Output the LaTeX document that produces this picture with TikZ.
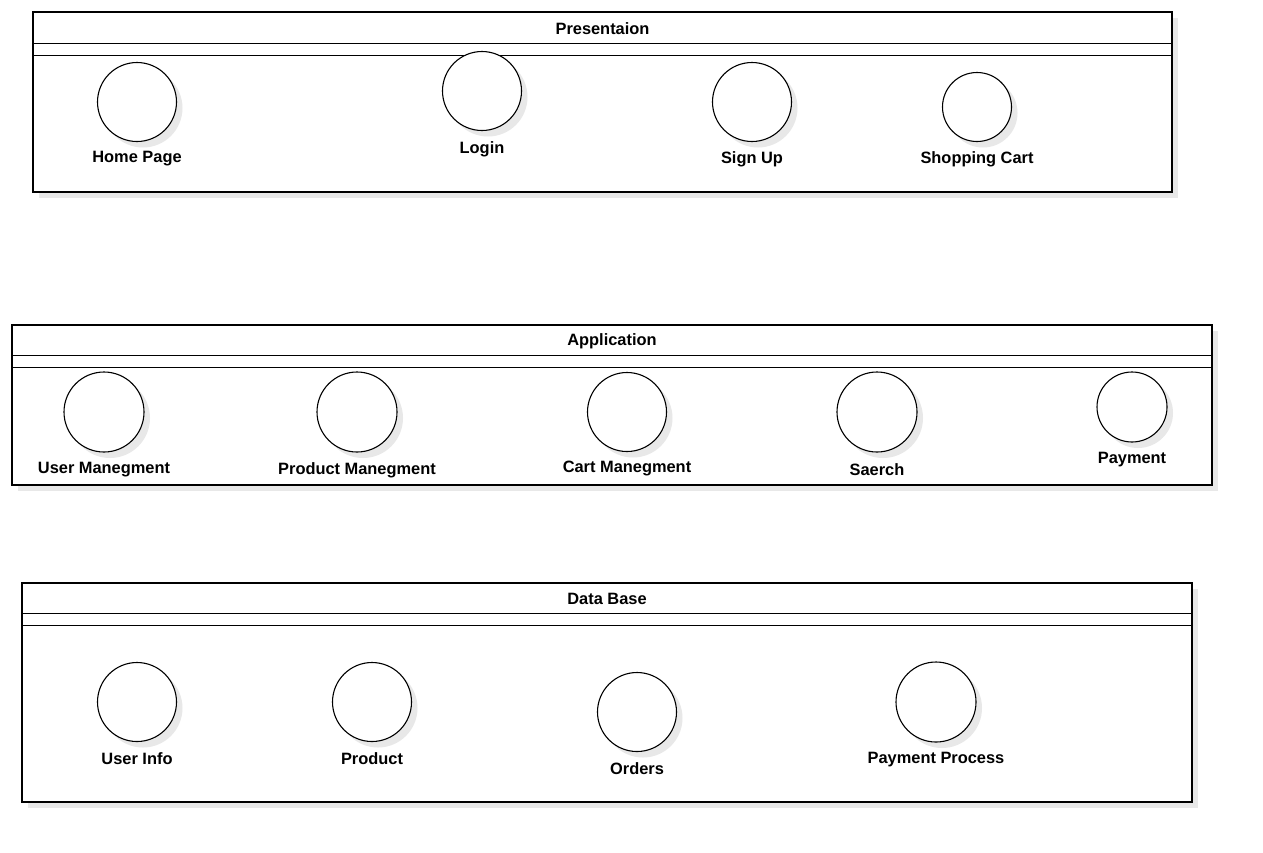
\documentclass[tikz,border=0pt]{standalone}
\usepackage{fontspec}
\setmainfont{Liberation Sans}
\usetikzlibrary{shadows}
\begin{document}
\begin{tikzpicture}[x=1pt,y=-1pt,
  shd/.style={drop shadow={shadow xshift=6pt,shadow yshift=-6pt,fill=black!9,opacity=1}},
  cont/.style={draw=black,line width=1.1pt,fill=white,rectangle,inner sep=0pt,shd},
  ent/.style={draw=black,line width=1.1pt,fill=white,circle,inner sep=0pt,minimum size=#1,shd},
  lbl/.style={font=\bfseries\fontsize{16.4}{19}\selectfont,inner sep=0pt,anchor=center},
  ttl/.style={font=\bfseries\fontsize{16.4}{19}\selectfont,inner sep=0pt,anchor=center}]
\useasboundingbox (0,0) rectangle (1263,852);
\fill[white] (0,0) rectangle (1263,852);
% Presentation layer
\node[cont,minimum width=1139pt,minimum height=180pt] (pres) at (602.5,102) {};
\draw[line width=1.1pt] ([yshift=-32pt]pres.north west) -- ([yshift=-32pt]pres.north east);
\draw[line width=1.1pt] ([yshift=-44pt]pres.north west) -- ([yshift=-44pt]pres.north east);
\node[ttl] (prest) at (602.5,29) {Presentaion};
\node[ent=79pt] (home) at (137,102) {};
\node[lbl] (homel) at (137,159) {Home Page};
\node[ent=79pt] (login) at (482,91) {};
\node[lbl] (loginl) at (482,149) {Login};
\node[ent=79pt] (signup) at (752,102) {};
\node[lbl] (signupl) at (752,159) {Sign Up};
\node[ent=69pt] (cart) at (977,107) {};
\node[lbl] (cartl) at (977,159) {Shopping Cart};
% Application layer
\node[cont,minimum width=1200pt,minimum height=160pt] (app) at (612,405) {};
\draw[line width=1.1pt] ([yshift=-31pt]app.north west) -- ([yshift=-31pt]app.north east);
\draw[line width=1.1pt] ([yshift=-43pt]app.north west) -- ([yshift=-43pt]app.north east);
\node[ttl] (appt) at (612,341) {Application};
\node[ent=80pt] (um) at (104,412) {};
\node[lbl] (uml) at (104,470) {User Manegment};
\node[ent=80pt] (pm) at (357,412) {};
\node[lbl] (pml) at (357,470) {Product Manegment};
\node[ent=79pt] (cm) at (627,412) {};
\node[lbl] (cml) at (627,469) {Cart Manegment};
\node[ent=80pt] (se) at (877,412) {};
\node[lbl] (sel) at (877,470) {Saerch};
\node[ent=70pt] (pay) at (1132,407) {};
\node[lbl] (payl) at (1132,460) {Payment};
% Data base layer
\node[cont,minimum width=1170pt,minimum height=219pt] (db) at (607,692.5) {};
\draw[line width=1.1pt] ([yshift=-31pt]db.north west) -- ([yshift=-31pt]db.north east);
\draw[line width=1.1pt] ([yshift=-43pt]db.north west) -- ([yshift=-43pt]db.north east);
\node[ttl] (dbt) at (607,599) {Data Base};
\node[ent=79pt] (ui) at (137,702) {};
\node[lbl] (uil) at (137,759) {User Info};
\node[ent=79pt] (pr) at (372,702) {};
\node[lbl] (prl) at (372,759) {Product};
\node[ent=79pt] (ord) at (637,712) {};
\node[lbl] (ordl) at (637,769) {Orders};
\node[ent=80pt] (pp) at (936,702) {};
\node[lbl] (ppl) at (936,760) {Payment Process};
\end{tikzpicture}
\end{document}
